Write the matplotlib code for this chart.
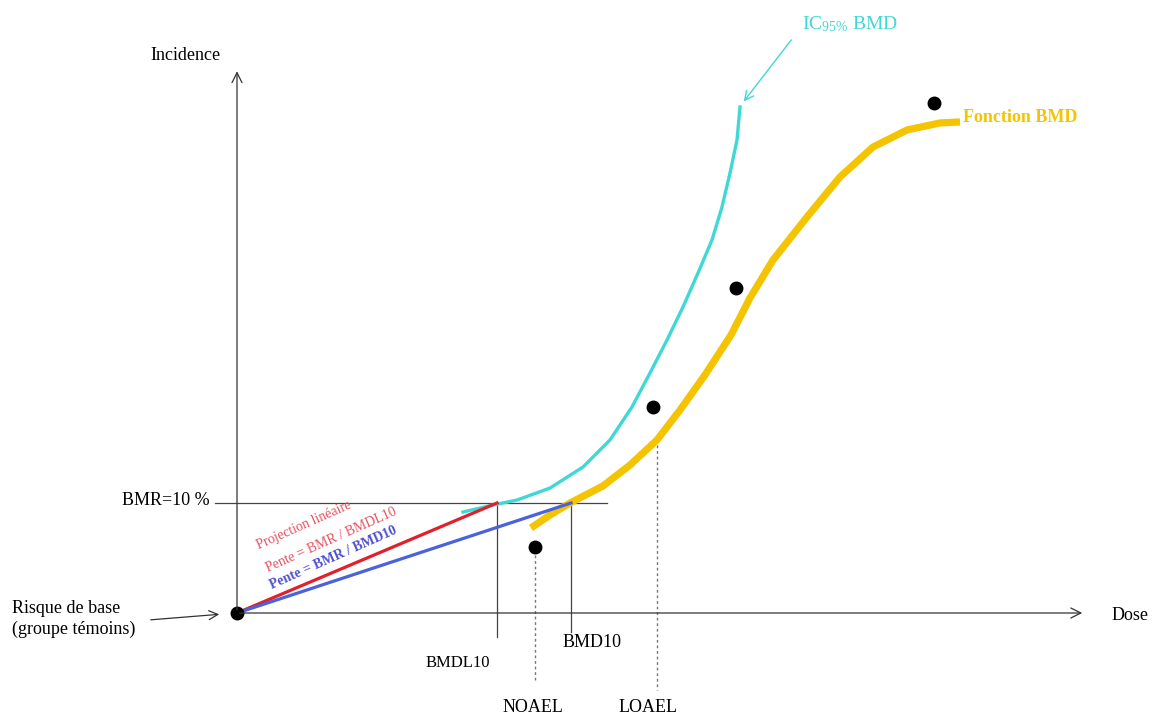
import matplotlib.pyplot as plt

plt.rcParams["font.family"] = ["Liberation Serif", "DejaVu Serif"]
plt.rcParams["mathtext.fontset"] = "custom"
plt.rcParams["mathtext.rm"] = "Liberation Serif"
plt.rcParams["mathtext.it"] = "Liberation Serif:italic"

# dose in arbitrary units, incidence in %
BMR = 10.0
BMDL10 = 26.0
BMD10 = 33.4
NOAEL = 29.8
LOAEL = 42.0

obs_dose = [29.8, 41.6, 49.9, 69.7]
obs_inc = [6.0, 18.7, 29.5, 46.4]

bmd_dose = [29.4, 31.3, 33.3, 36.6, 39.3, 42.0, 44.3, 46.8, 49.4, 51.3, 53.6,
            57.0, 60.3, 63.6, 67.0, 70.3, 72.3]
bmd_inc = [7.73, 8.91, 10.0, 11.55, 13.45, 15.73, 18.45, 21.64, 25.27, 28.64, 32.09,
           36.0, 39.64, 42.36, 43.91, 44.55, 44.64]

ic_dose = [22.6, 25.6, 28.0, 31.3, 34.6, 37.3, 39.5, 41.3, 43.0, 44.6, 46.1,
           47.5, 48.5, 49.3, 50.0, 50.3]
ic_inc = [9.18, 9.82, 10.27, 11.36, 13.27, 15.73, 18.73, 21.82, 24.82, 27.82, 30.91,
          33.91, 36.91, 40.0, 43.0, 46.0]

YELLOW = "#f5c400"
CYAN = "#3fd8d4"
RED = "#e0202c"
BLUE = "#4a62dc"

fig = plt.figure(figsize=(11.63, 7.2), dpi=100)
ax = fig.add_axes([0, 0, 1, 1])
ax.set_xlim(-23.7, 92.6)
ax.set_ylim(-9.727, 55.727)
ax.axis("off")

# axes with open arrow heads
arr = dict(arrowstyle="->", color="#333333", lw=0.9, mutation_scale=18)
ax.annotate("", xy=(84.8, 0), xytext=(0, 0), arrowprops=arr)
ax.annotate("", xy=(0, 49.5), xytext=(0, 0), arrowprops=arr)

# BMR horizontal and BMDL/BMD verticals
ax.plot([-2.2, 37.0], [BMR, BMR], color="#444444", lw=0.9)
ax.plot([BMDL10, BMDL10], [BMR, -2.2], color="#444444", lw=0.9)
ax.plot([BMD10, BMD10], [BMR, -1.7], color="#444444", lw=0.9)
ax.plot([NOAEL, NOAEL], [5.3, -6.3], color="#777777", lw=1.0, ls=(0, (2, 2)))
ax.plot([LOAEL, LOAEL], [15.3, -7.0], color="#777777", lw=1.0, ls=(0, (2, 2)))

# curves
ax.plot(ic_dose, ic_inc, color=CYAN, lw=2.4, solid_joinstyle="round")
ax.plot(bmd_dose, bmd_inc, color=YELLOW, lw=5.2, solid_capstyle="butt",
        solid_joinstyle="round")
ax.plot([0, BMDL10], [0, BMR], color=RED, lw=2.3)
ax.plot([0, BMD10], [0, BMR], color=BLUE, lw=2.3)

ax.plot(obs_dose, obs_inc, "o", color="black", ms=9)
ax.plot([0], [0], "o", color="black", ms=9)

fs = 13
ax.text(-5.2, 50.7, "Incidence", fontsize=fs, ha="center", va="center")
ax.text(89.3, -0.2, "Dose", fontsize=fs, ha="center", va="center")
ax.text(-2.7, 10.2, "BMR=10 %", fontsize=fs, ha="right", va="center")
ax.text(-22.5, -0.55, "Risque de base\n(groupe témoins)", fontsize=fs,
        ha="left", va="center", linespacing=1.3)
ax.annotate("", xy=(-1.5, -0.1), xytext=(-8.9, -0.64),
            arrowprops=dict(arrowstyle="->", color="#333333", lw=0.9, mutation_scale=16))
ax.text(22.1, -4.55, "BMDL10", fontsize=fs - 1, ha="center", va="center")
ax.text(35.5, -2.7, "BMD10", fontsize=fs, ha="center", va="center")
ax.text(29.6, -8.6, "NOAEL", fontsize=fs, ha="center", va="center")
ax.text(41.1, -8.6, "LOAEL", fontsize=fs, ha="center", va="center")

ax.text(61.3, 53.5, r"IC$_{95\%}$ BMD", fontsize=fs + 1, color=CYAN,
        ha="center", va="center")
ax.annotate("", xy=(50.5, 46.3), xytext=(55.6, 52.3),
            arrowprops=dict(arrowstyle="->", color=CYAN, lw=1.0, mutation_scale=16))
ax.text(72.6, 45.0, "Fonction BMD", fontsize=fs, color=YELLOW, fontweight="bold",
        ha="left", va="center")

rot = 24
ax.text(6.7, 8.0, "Projection linéaire", fontsize=10, color="#e8505e",
        rotation=rot, rotation_mode="anchor", ha="center", va="center")
ax.text(9.4, 6.6, "Pente = BMR / BMDL10", fontsize=10, color="#e8505e",
        rotation=rot, rotation_mode="anchor", ha="center", va="center")
ax.text(9.6, 5.05, "Pente = BMR / BMD10", fontsize=10, color="#5050d0",
        fontweight="bold", rotation=rot, rotation_mode="anchor", ha="center", va="center")

fig.savefig("out.png", dpi=100)
